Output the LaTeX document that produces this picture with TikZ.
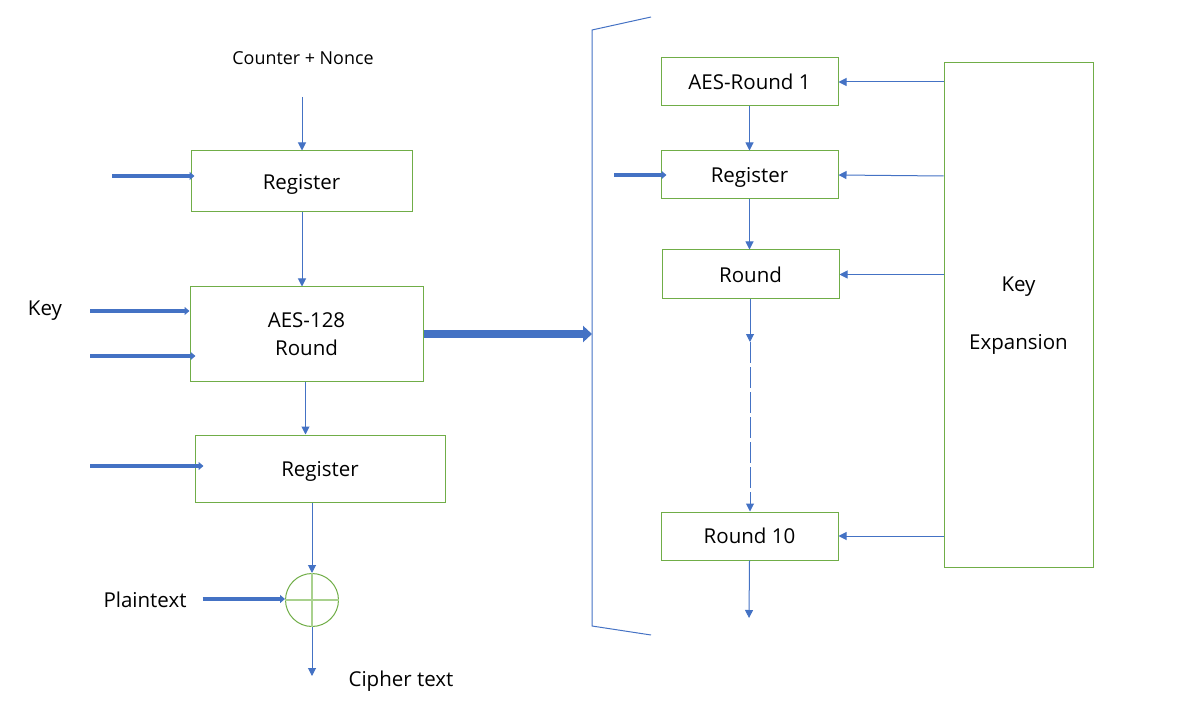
\documentclass[tikz,border=0pt]{standalone}
\usepackage{fontspec}
\setmainfont{Open Sans}
\usetikzlibrary{arrows.meta,calc}
\definecolor{lblue}{HTML}{4472C4}
\definecolor{lgreen}{HTML}{70AD47}
\definecolor{pgreen}{HTML}{A9D18E}
\begin{document}
\begin{tikzpicture}[x=1pt,y=-1pt,
  txt/.style={font=\fontsize{20.5}{24}\selectfont, inner sep=0pt, align=center},
  small/.style={font=\fontsize{17.9}{21}\selectfont, inner sep=0pt},
  box/.style={draw=lgreen, line width=1pt, inner sep=0pt, txt, text depth=0pt},
  arr/.style={draw=lblue, line width=1pt, -{Triangle[length=8pt,width=8pt]}},
  fat/.style={draw=lblue, line width=4pt, -{Triangle[length=5pt,width=8pt]}},
  bigfat/.style={draw=lblue, line width=7pt, -{Triangle[length=9pt,width=16pt]}},
  brack/.style={draw=lblue, line width=1pt}]
\useasboundingbox (0,0) rectangle (1178,711);

% left column
\node[small] (cn) at (303,58) {Counter + Nonce};
\coordinate (cnarr) at (302,97);
\node[box, minimum width=221pt, minimum height=61pt] (reg1) at (301.5,181.5) {Register};
\node[box, minimum width=233pt, minimum height=94pt] (aes) at (306.5,334) {AES-128\\[4pt]Round};
\node[box, minimum width=250pt, minimum height=67pt] (reg2) at (320,468.5) {Register};
\node[circle, draw=lgreen, line width=1pt, minimum size=53pt, inner sep=0pt] (xor) at (312,600) {};
\draw[pgreen, line width=1.5pt] (xor.north) -- (xor.south) (xor.west) -- (xor.east);

\node[txt] (key) at (45,311) {Key};
\node[txt] (pt) at (145,600) {Plaintext};
\node[txt] (ct) at (401,681) {Cipher text};

\coordinate (in1) at (112,176);
\coordinate (k1) at (90,311);
\coordinate (k2) at (90,356);
\coordinate (in2) at (90,466);
\coordinate (ctout) at (312,676);

\draw[arr] (cnarr) -- (cnarr |- reg1.north);
\draw[arr] (reg1.south -| cnarr) -- (cnarr |- aes.north);
\draw[arr] ($(aes.south)+(-1,0)$) -- ($(aes.south |- reg2.north)+(-1,0)$);
\draw[arr] (reg2.south -| xor) -- (xor.north);
\draw[arr] (xor.south) -- (ctout);

\draw[fat] (in1) -- ($(in1 -| reg1.west)+(4,0)$);
\draw[fat] (k1) -- (k1 -| aes.west);
\draw[fat] (k2) -- ($(k2 -| aes.west)+(6,0)$);
\draw[fat] (in2) -- ($(in2 -| reg2.west)+(9,0)$);
\draw[fat] ($(pt.east)+(16,-1)$) -- ($(xor.west)+(0,-1)$);

% bracket
\coordinate (b1) at (651,17);
\coordinate (b2) at (592,30);
\coordinate (b3) at (592,626);
\coordinate (b4) at (651,635);
\draw[brack] (b1) -- (b2) -- (b3) -- (b4);
\draw[bigfat] (aes.east) -- (aes.east -| b2);

% right column
\node[box, minimum width=177pt, minimum height=48pt] (r1) at (749.5,82) {AES-Round 1};
\node[box, minimum width=177pt, minimum height=48pt] (r2) at (749.5,175) {Register};
\node[box, minimum width=177pt, minimum height=49pt] (r3) at (750.5,274.5) {Round};
\node[box, minimum width=177pt, minimum height=48pt] (r10) at (749.5,536) {Round 10};
\node[box, minimum width=149pt, minimum height=504pt] (kx) at (1018.5,315) {Key\\[34pt]Expansion\\[-21pt]};

\coordinate (in3) at (614,175);
\coordinate (mid) at (750,342);
\coordinate (out) at (749,618);

\draw[arr] (r1.south) -- (r1.south |- r2.north);
\draw[arr] (r2.south) -- (r2.south |- r3.north);
\draw[arr] (r3.south -| mid) -- (mid);
\draw[arr, dash pattern=on 21pt off 4pt] (mid) -- (mid |- r10.north);
\draw[arr] (r10.south) -- (out);
\draw[fat] (in3) -- ($(in3 -| r2.west)+(6,0)$);

\draw[arr] (kx.west |- r1) -- (r1.east);
\draw[arr] ($(kx.west |- r2)+(0,1)$) -- (r2.east);
\draw[arr] (kx.west |- r3) -- (r3.east);
\draw[arr] (kx.west |- r10) -- (r10.east);
\end{tikzpicture}
\end{document}
